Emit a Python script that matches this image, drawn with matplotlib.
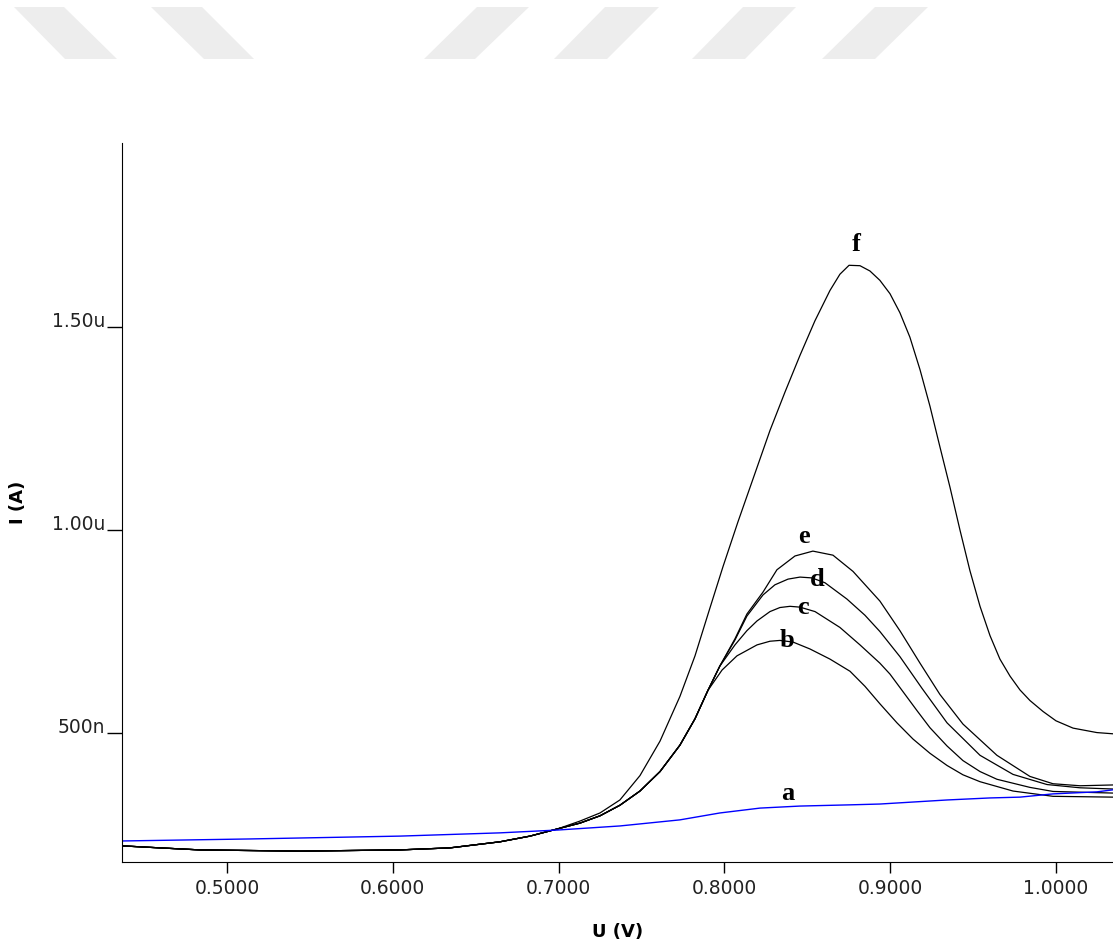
import numpy as np
import matplotlib
matplotlib.use("Agg")
import matplotlib.pyplot as plt
from matplotlib.patches import Polygon

# potential (V) and current (uA)
base_u = [0.4367, 0.4596, 0.4837, 0.5440, 0.6043, 0.6345, 0.6647, 0.6828, 0.6996]
base_i = [0.222, 0.217, 0.212, 0.209, 0.212, 0.217, 0.232, 0.246, 0.264]

rise_u = [0.7129, 0.7250, 0.7370, 0.7491, 0.7612, 0.7732, 0.7823, 0.7901]
rise_i = [0.278, 0.296, 0.322, 0.357, 0.405, 0.470, 0.535, 0.605]

a_u = [0.4367, 0.5139, 0.6043, 0.6647, 0.6996, 0.7370, 0.7732, 0.7973, 0.8215,
       0.8456, 0.8758, 0.8938, 0.9343, 0.9602, 0.9783, 0.9982, 1.0247, 1.0344]
a_i = [0.234, 0.239, 0.246, 0.254, 0.261, 0.271, 0.286, 0.303, 0.315,
       0.320, 0.323, 0.325, 0.335, 0.340, 0.342, 0.350, 0.355, 0.360]

b_u = [0.7986, 0.8076, 0.8197, 0.8275, 0.8335, 0.8414, 0.8516, 0.8637, 0.8758, 0.8848,
       0.8938, 0.9041, 0.9138, 0.9240, 0.9343, 0.9439, 0.9542, 0.9741, 0.9982, 1.0344]
b_i = [0.655, 0.690, 0.717, 0.726, 0.728, 0.724, 0.707, 0.682, 0.652, 0.615,
       0.572, 0.525, 0.485, 0.450, 0.420, 0.397, 0.380, 0.357, 0.344, 0.342]

c_u = [0.7973, 0.8064, 0.8136, 0.8197, 0.8275, 0.8335, 0.8396, 0.8456, 0.8547, 0.8697,
       0.8818, 0.8938, 0.8999, 0.9077, 0.9162, 0.9240, 0.9343, 0.9439, 0.9542, 0.9644,
       0.9843, 0.9982, 1.0344]
c_i = [0.665, 0.717, 0.752, 0.776, 0.799, 0.809, 0.812, 0.810, 0.799, 0.760,
       0.717, 0.672, 0.645, 0.602, 0.555, 0.513, 0.468, 0.432, 0.405, 0.386,
       0.366, 0.356, 0.352]

d_u = [0.7973, 0.8064, 0.8136, 0.8233, 0.8305, 0.8384, 0.8456, 0.8528, 0.8607, 0.8739,
       0.8848, 0.8938, 0.9059, 0.9192, 0.9343, 0.9542, 0.9741, 0.9946, 1.0145, 1.0344]
d_i = [0.665, 0.729, 0.788, 0.840, 0.865, 0.879, 0.884, 0.882, 0.870, 0.830,
       0.790, 0.750, 0.688, 0.610, 0.525, 0.445, 0.398, 0.373, 0.365, 0.362]

e_u = [0.7973, 0.8064, 0.8136, 0.8233, 0.8317, 0.8426, 0.8534, 0.8655, 0.8776, 0.8938,
       0.9059, 0.9180, 0.9300, 0.9439, 0.9644, 0.9843, 0.9982, 1.0145, 1.0344]
e_i = [0.665, 0.732, 0.793, 0.847, 0.902, 0.936, 0.948, 0.938, 0.898, 0.825,
       0.752, 0.672, 0.595, 0.522, 0.445, 0.393, 0.375, 0.370, 0.372]

f_u = [0.7129, 0.7250, 0.7370, 0.7491, 0.7612, 0.7732, 0.7823, 0.7907, 0.7992, 0.8082,
       0.8185, 0.8275, 0.8366, 0.8456, 0.8546, 0.8637, 0.8697, 0.8752, 0.8818, 0.8878,
       0.8938, 0.8999, 0.9059, 0.9119, 0.9180, 0.9240, 0.9300, 0.9361, 0.9421, 0.9481,
       0.9542, 0.9602, 0.9662, 0.9723, 0.9783, 0.9843, 0.9922, 1.0000, 1.0103, 1.0247,
       1.0344]
f_i = [0.283, 0.303, 0.335, 0.395, 0.480, 0.590, 0.690, 0.800, 0.910, 1.020,
       1.140, 1.245, 1.340, 1.430, 1.515, 1.590, 1.630, 1.652, 1.651, 1.638,
       1.615, 1.582, 1.535, 1.475, 1.395, 1.305, 1.205, 1.105, 1.000, 0.900,
       0.812, 0.740, 0.682, 0.640, 0.606, 0.580, 0.553, 0.530, 0.512, 0.501,
       0.498]

names = ["a", "b", "c", "d", "e", "f"]
label_u = [0.838, 0.838, 0.8475, 0.856, 0.848, 0.8794]
label_i = [0.352, 0.727, 0.808, 0.877, 0.983, 1.702]

yticks = [0.5, 1.0, 1.5]
ytick_labels = ["500n", "1.00u", "1.50u"]
xticks = [0.5, 0.6, 0.7, 0.8, 0.9, 1.0]

fig = plt.figure(figsize=(11.13, 9.44), dpi=100)

# faint grey stripes along the top edge (pixel positions in the picture)
stripes = [
    [(14, 7), (64, 7), (117, 59), (65, 59)],
    [(151, 7), (202, 7), (254, 59), (204, 59)],
    [(477, 7), (529, 7), (475, 59), (424, 59)],
    [(605, 7), (659, 7), (607, 59), (554, 59)],
    [(743, 7), (796, 7), (745, 59), (692, 59)],
    [(875, 7), (928, 7), (875, 59), (822, 59)],
]
for s in stripes:
    pts = [(x / 1113, 1 - y / 944) for x, y in s]
    fig.add_artist(Polygon(pts, closed=True, transform=fig.transFigure,
                           facecolor="#ededed", edgecolor="none"))

ax = fig.add_axes([0.1096, 0.0869, 0.8904, 0.7616])

black = [(b_u, b_i), (c_u, c_i), (d_u, d_i), (e_u, e_i)]
for u, i in black:
    ax.plot(base_u + rise_u + u, base_i + rise_i + i, color="black", lw=0.9)
ax.plot(base_u + f_u, base_i + f_i, color="black", lw=0.9)
ax.plot(a_u, a_i, color="#0000ff", lw=1.0)

for n, u, i in zip(names, label_u, label_i):
    ax.text(u, i, n, ha="center", va="center", fontsize=19,
            fontweight="bold", family="Liberation Serif")

ax.set_xlim(0.4367, 1.0344)
ax.set_ylim(0.1823, 1.9532)
ax.set_xticks(xticks)
ax.set_xticklabels([f"{v:.4f}" for v in xticks])
ax.set_yticks(yticks)
ax.set_yticklabels(ytick_labels)
for lab in ax.get_yticklabels():
    lab.set_va("baseline")

ax.tick_params(axis="y", direction="out", length=11, width=1, pad=1,
               labelsize=13.5, labelcolor="#222222")
ax.tick_params(axis="x", direction="out", length=8, width=1, pad=4,
               labelsize=13.5, labelcolor="#222222")
ax.spines["top"].set_visible(False)
ax.spines["right"].set_visible(False)

ax.set_xlabel("U (V)", fontsize=13, fontweight="bold")
ax.set_ylabel("I (A)", fontsize=13, fontweight="bold")
ax.xaxis.set_label_coords(0.5, -0.085)
ax.yaxis.set_label_coords(-0.096, 0.5)

fig.savefig("out.png", dpi=100)
